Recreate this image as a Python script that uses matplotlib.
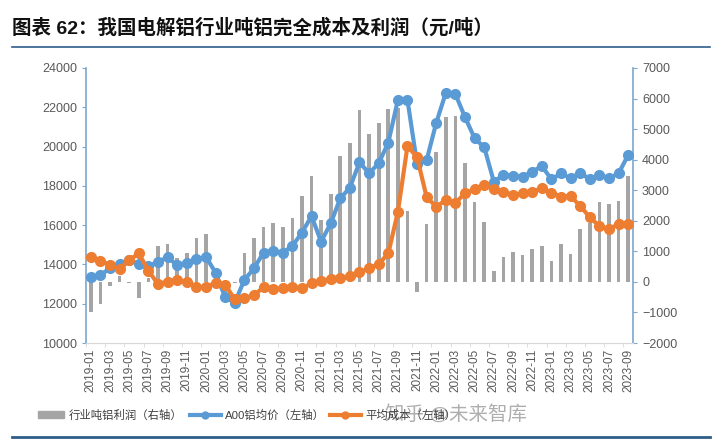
import numpy as np
import matplotlib.pyplot as plt
from matplotlib.patches import Patch
from matplotlib.lines import Line2D

plt.rcParams['font.family'] = ['Liberation Sans', 'Noto Sans CJK SC', 'DejaVu Sans']

# months 2019-01 .. 2023-09
months = [f'{y}-{m:02d}' for y in range(2019, 2024) for m in range(1, 13)][:57]

# A00 aluminium average price (left axis, yuan/t)
a00_price = [13340, 13460, 13800, 14020, 14250, 14000, 13900, 14140, 14360, 13970,
             14090, 14260, 14390, 13580, 12330, 12050, 13210, 13800, 14600, 14700,
             14600, 14940, 15615, 16460, 15160, 16090, 17365, 17910, 19200, 18640,
             19150, 20200, 22370, 22370, 19110, 19320, 21215, 22745, 22660, 21490,
             20420, 19960, 18210, 18550, 18500, 18470, 18720, 19010, 18330, 18640,
             18380, 18670, 18330, 18550, 18380, 18640, 19570]

# average full cost (left axis, yuan/t)
avg_cost = [14360, 14190, 13970, 13750, 14220, 14560, 13680, 13000, 13120, 13210,
            13120, 12870, 12830, 13070, 12970, 12220, 12270, 12440, 12830, 12730,
            12780, 12830, 12780, 13040, 13170, 13240, 13290, 13410, 13590, 13800,
            14020, 14560, 16680, 20030, 19450, 17420, 16940, 17280, 17140, 17620,
            17820, 18040, 17820, 17700, 17530, 17620, 17700, 17870, 17650, 17450,
            17480, 16970, 16400, 15955, 15790, 16060, 16060]

# industry profit per tonne (right axis, yuan/t)
profit = [-1000, -720, -130, 200, -40, -530, 120, 1160, 1230, 770,
          960, 1430, 1560, 200, -400, -50, 960, 1430, 1790, 1940,
          1810, 2080, 2810, 3470, 2010, 2880, 4120, 4560, 5630, 4840,
          5190, 5650, 5680, 2320, -320, 1900, 4260, 5410, 5430, 3880,
          2630, 1970, 370, 830, 980, 880, 1070, 1190, 670, 1240,
          920, 1730, 1920, 2600, 2540, 2650, 3470]

blue = '#5b9bd5'
orange = '#ed7d31'
grey = '#a5a5a5'
axis_blue = '#7ea6cf'
tick_col = '#595959'

fig = plt.figure(figsize=(7.2, 4.43), dpi=100)
ax = fig.add_axes([86 / 720, 1 - 343 / 443, (633 - 86) / 720, (343 - 68) / 443])
ax2 = ax.twinx()

x = np.arange(len(months))

# bars on right axis, lines on left axis drawn on top
ax2.bar(x, profit, width=0.38, color=grey, zorder=1)
ax.plot(x, a00_price, color=blue, lw=3, marker='o', ms=7, zorder=3)
ax.plot(x, avg_cost, color=orange, lw=3, marker='o', ms=7, zorder=4)
ax.set_zorder(ax2.get_zorder() + 1)
ax.patch.set_visible(False)

ax.set_xlim(-0.5, len(months) - 0.5)
ax.set_ylim(10000, 24000)
ax.set_yticks(range(10000, 24001, 2000))
ax2.set_ylim(-2000, 7000)
ax2.set_yticks(range(-2000, 7001, 1000))

ax.set_xticks(x[::2])
ax.set_xticklabels(months[::2], rotation=90, fontsize=8.5, color=tick_col)
ax.set_xticks(np.arange(-0.5, len(months), 2), minor=True)
ax.tick_params(axis='x', which='major', length=0, pad=4)
ax.tick_params(axis='x', which='minor', length=3, color='#d9d9d9')

for a in (ax, ax2):
    a.spines['top'].set_visible(False)
    a.spines['bottom'].set_color('#d9d9d9')
    a.spines['left'].set_color(axis_blue)
    a.spines['right'].set_color(axis_blue)
    a.spines['left'].set_linewidth(1.2)
    a.spines['right'].set_linewidth(1.2)
ax.spines['right'].set_visible(False)
ax2.spines['left'].set_visible(False)

ax.tick_params(axis='y', labelsize=9, colors=tick_col, length=3, color=axis_blue)
ax2.tick_params(axis='y', labelsize=9, colors=tick_col, length=3, color=axis_blue)

# title and frame lines
fig.text(12 / 720, 1 - 28 / 443, '图表 62：我国电解铝行业吨铝完全成本及利润（元/吨）',
         fontsize=14, fontweight='bold', va='center', ha='left', color='#111111')
fig.add_artist(Line2D([12 / 720, 710 / 720], [1 - 47 / 443] * 2, color='#2e5d8a', lw=1.2))
fig.add_artist(Line2D([12 / 720, 710 / 720], [1 - 437 / 443] * 2, color='#2e5d8a', lw=2))

# legend entries placed one by one, as in the reference
entries = [
    (Patch(color=grey), '行业吨铝利润（右轴）', 38, 2.3),
    (Line2D([], [], color=blue, lw=3, marker='o', ms=5), 'A00铝均价（左轴）', 190, 2.7),
    (Line2D([], [], color=orange, lw=3, marker='o', ms=5), '平均成本（左轴）', 330, 2.7),
]
for h, lab, px, hl in entries:
    leg = fig.legend([h], [lab], loc='center left', bbox_to_anchor=(px / 720, 1 - 415 / 443),
                     frameon=False, fontsize=8.2, handlelength=hl, handleheight=0.45,
                     handletextpad=0.4, borderpad=0, borderaxespad=0, labelcolor='#404040')

# watermark
fig.text(385 / 720, 1 - 414 / 443, '知乎 @未来智库', fontsize=14, color='#9a9a9a',
         alpha=0.8, va='center', ha='left')

fig.savefig('out.png', dpi=100)
